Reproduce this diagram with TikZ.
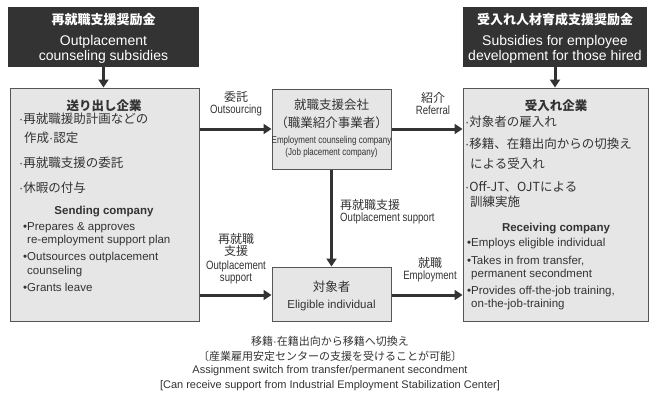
\documentclass[tikz,border=0pt]{standalone}
\usepackage{fontspec}
\setmainfont{Liberation Sans}
\newfontfamily\jpfont{Noto Sans CJK JP}
\newfontfamily\latinfont{Liberation Sans}
\newfontfamily\narrowfont{Liberation Sans}[FakeStretch=0.8]
\usetikzlibrary
  {
    arrows.meta, % triangle arrow heads
    positioning, % place nodes relative to other nodes
    calc,
  }

\definecolor{ink}{HTML}{333333}
\definecolor{panelfill}{HTML}{E6E6E6}
\definecolor{paneledge}{HTML}{555555}

\tikzset{
  grant/.style={fill=ink, inner sep=0pt},
  granttext/.style={text=white, align=center, inner sep=0pt},
  panel/.style={fill=panelfill, draw=paneledge, line width=1pt, inner sep=0pt},
  flow/.style={draw=ink, line width=3pt, -{Triangle[length=8pt,width=10pt]}},
  tag/.style={align=center, inner sep=0pt, text=ink},
  lines/.style={align=left, inner sep=0pt, anchor=north west, text=ink},
}

\newcommand\bul{\textbullet}
\newcommand\gap{\hphantom{\textbullet}}
\newcommand\dt{{\latinfont ·}}
% label lines on the arrows
\newcommand\tagjp[1]{{\jpfont\fontsize{12}{14.5}\selectfont #1}}
\newcommand\tagen[1]{{\narrowfont\fontsize{12}{14.5}\selectfont #1}}

\begin{document}
\begin{tikzpicture}[x=1pt,y=-1pt]
  \useasboundingbox (0,0) rectangle (652,397);

  % subsidies on top
  \node [grant, minimum width=191pt, minimum height=60pt] (grantout) at (103.5,37) {};
  \node [granttext, font=\jpfont\bfseries\fontsize{13}{15}\selectfont] (grantouthead) at (103.5,20) {再就職支援奨励金};
  \node [granttext, font=\fontsize{14}{15}\selectfont] (grantouttext) at (103.5,49.5) {Outplacement\\counseling subsidies};

  \node [grant, minimum width=184pt, minimum height=60pt] (grantin) at (555,37) {};
  \node [granttext, font=\jpfont\bfseries\fontsize{13}{15}\selectfont] (grantinhead) at (555,20) {受入れ人材育成支援奨励金};
  \node [granttext, font=\fontsize{14}{15}\selectfont] (grantintext) at (555,49.5) {Subsidies for employee\\development for those hired};

  % the four boxes
  \node [panel, minimum width=189pt, minimum height=233pt] (send) at (104.5,204.5) {};
  \node [panel, minimum width=185pt, minimum height=233pt] (recv) at (555.5,204.5) {};
  \node [panel, minimum width=119pt, minimum height=80pt] (agency) at (331.5,129) {};
  \node [panel, minimum width=119pt, minimum height=54pt] (person) at (331.5,294) {};

  % sending company
  \node [tag, font=\jpfont\bfseries\fontsize{12.5}{15}\selectfont] (sendhead) at (104,106) {送り出し企業};
  \node [lines, font=\jpfont\fontsize{12.5}{18.5}\selectfont] (sendjp) at (19,113)
    {\dt 再就職援助計画などの\\\hspace*{5pt}作成\dt 認定\\[6.5pt]\dt 再就職支援の委託\\[6.5pt]\dt 休暇の付与};
  \node [tag, font=\bfseries\fontsize{11.5}{14}\selectfont] (sendenhead) at (104,212) {Sending company};
  \node [lines, font=\fontsize{11.5}{13.5}\selectfont] (senden) at (23,222)
    {\bul Prepares \& approves\\\gap re-employment support plan\\[3.5pt]
     \bul Outsources outplacement\\\gap counseling\\[3.5pt]
     \bul Grants leave};

  % receiving company
  \node [tag, font=\jpfont\bfseries\fontsize{12.5}{15}\selectfont] (recvhead) at (556,106) {受入れ企業};
  \node [lines, font=\jpfont\fontsize{12.5}{15}\selectfont] (recvjp) at (465,116)
    {\dt 対象者の雇入れ\\[7pt]\dt 移籍、在籍出向からの切換え\\[5pt]\hspace*{5pt}による受入れ\\[8pt]
     \dt Off-JT、OJTによる\\\hspace*{5pt}訓練実施};
  \node [tag, font=\bfseries\fontsize{11.5}{14}\selectfont] (recvenhead) at (556,229) {Receiving company};
  \node [lines, font=\fontsize{11.5}{13}\selectfont] (recven) at (467,238)
    {\bul Employs eligible individual\\[5pt]
     \bul Takes in from transfer,\\\gap permanent secondment\\[4pt]
     \bul Provides off-the-job training,\\\gap on-the-job-training};

  % middle boxes
  \node [tag, font=\jpfont\fontsize{12.5}{18}\selectfont] (agencyjp) at (331.5,114) {就職支援会社\\（職業紹介事業者）};
  \node [tag, font=\narrowfont\fontsize{10}{12}\selectfont] (agencyen) at (331.5,147) {Employment counseling company\\(Job placement company)};
  \node [tag, font=\jpfont\fontsize{12.5}{15}\selectfont] (personjp) at (331.5,287) {対象者};
  \node [tag, font=\fontsize{11.5}{14}\selectfont] (personen) at (331.5,306) {Eligible individual};

  % arrows
  \coordinate (upper) at (0,129);
  \coordinate (lower) at (0,295);
  \draw [flow] (grantout.south) -- (grantout.south |- send.north);
  \draw [flow] (grantin.south) -- (grantin.south |- recv.north);
  \draw [flow] (send.east |- upper) -- (agency.west |- upper);
  \draw [flow] (agency.east |- upper) -- (recv.west |- upper);
  \draw [flow] (send.east |- lower) -- (person.west |- lower);
  \draw [flow] (person.east |- lower) -- (recv.west |- lower);
  \draw [flow] (agency.south) -- (person.north);

  % arrow labels
  \node [tag] (tagout) at (236,104) {\tagjp{委託}\\\tagen{Outsourcing}};
  \node [tag] (tagref) at (433,104) {\tagjp{紹介}\\\tagen{Referral}};
  \node [tag, align=left, anchor=west] (tagsup) at (340,211.5) {\tagjp{再就職支援}\\\tagen{Outplacement support}};
  \node [tag] (tagside) at (236,258.5) {\tagjp{再就職}\\\tagjp{支援}\\[1.5pt]\tagen{Outplacement}\\\tagen{support}};
  \node [tag] (tagjob) at (430,269.5) {\tagjp{就職}\\\tagen{Employment}};

  % note below
  \node [tag, font=\jpfont\fontsize{11}{14.5}\selectfont] (notejp) at (330,349)
    {移籍\dt 在籍出向から移籍へ切換え\\〔産業雇用安定センターの支援を受けることが可能〕};
  \node [tag, font=\fontsize{11}{15}\selectfont] (noteen) at (330,378.5)
    {Assignment switch from transfer/permanent secondment\\{[}Can receive support from Industrial Employment Stabilization Center{]}};
\end{tikzpicture}
\end{document}
